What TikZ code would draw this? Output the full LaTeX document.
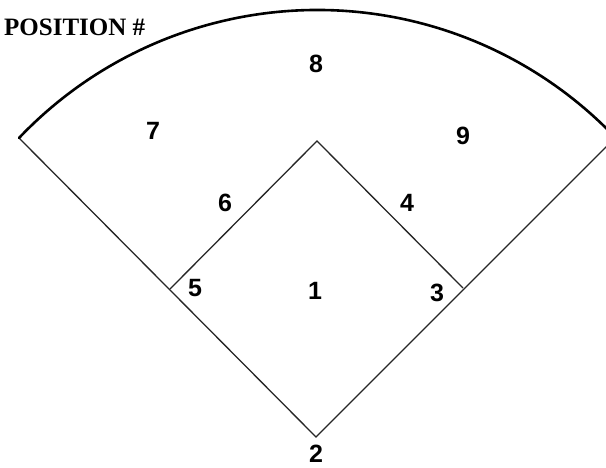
\documentclass[tikz,border=0pt]{standalone}
\usepackage{fontspec}
\setmainfont{Liberation Sans}
\newfontfamily\titlefont{Liberation Serif}
\tikzset{
  fieldline/.style={draw=black!85, line width=1.3pt},
  fencearc/.style={draw=black, line width=2.6pt},
  posnum/.style={font=\fontsize{25}{25}\selectfont\bfseries, text=black, inner sep=0pt},
  titletext/.style={font=\titlefont\fontsize{25}{25}\selectfont\bfseries, inner sep=0pt}
}
\begin{document}
\begin{tikzpicture}[x=1pt,y=1pt]
\useasboundingbox (0,0) rectangle (606,467);
\fill[white] (0,0) rectangle (606,467);
\clip (0,0) rectangle (606,467);
% bases
\coordinate (home) at (316,30);
\coordinate (third) at (170,178);
\coordinate (second) at (317,326);
\coordinate (first) at (463,179);
\coordinate (lfoul) at (19,329);
\coordinate (rfoul) at (640,354);
% foul lines and infield
\draw[fieldline] (lfoul) -- (home) -- (rfoul);
\draw[fieldline] (third) -- (second) -- (first);
% outfield fence
\draw[fencearc, line cap=round] (lfoul) arc[start angle=136.44, end angle=40, radius=411.8pt];
% title
\node[titletext, anchor=base west] (title) at (4,431) {POSITION \#};
% positions
\node[posnum] (p1) at (315,176) {1};
\node[posnum] (p2) at (316,13) {2};
\node[posnum] (p3) at (437,174) {3};
\node[posnum] (p4) at (407,264) {4};
\node[posnum] (p5) at (195,179) {5};
\node[posnum] (p6) at (225,264) {6};
\node[posnum] (p7) at (153,336) {7};
\node[posnum] (p8) at (316,403) {8};
\node[posnum] (p9) at (463,331) {9};
\end{tikzpicture}
\end{document}
